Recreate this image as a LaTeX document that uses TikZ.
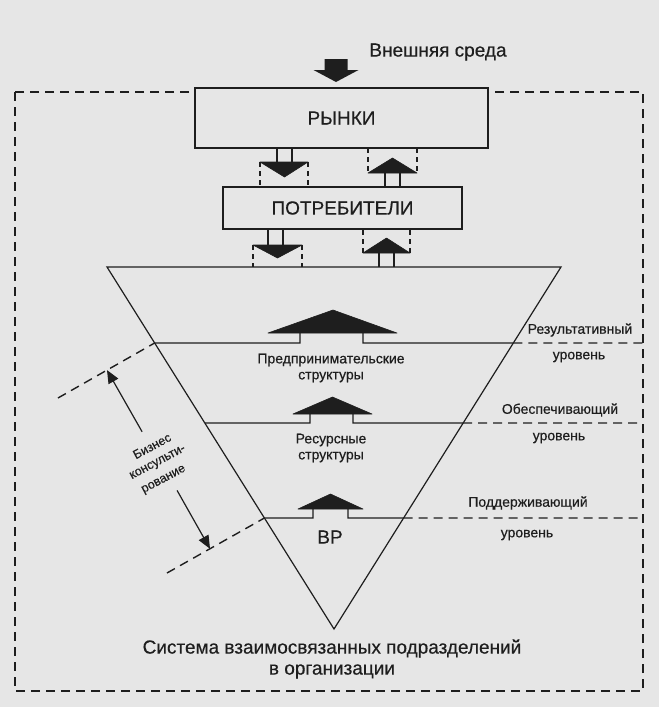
\documentclass[tikz,border=0pt]{standalone}
\usepackage{fontspec}
\setmainfont{Liberation Sans}[FakeBold=0.4]
\usetikzlibrary{arrows.meta,calc}
\definecolor{bg}{RGB}{230,230,230}
\definecolor{ink}{RGB}{30,30,30}
\begin{document}
\begin{tikzpicture}[x=1pt,y=-1pt,
  boxst/.style={draw=ink, line width=1.5pt, fill=bg, inner sep=0pt},
  big/.style={font=\fontsize{19}{21}\selectfont, text=ink, inner sep=0pt},
  lab/.style={font=\fontsize{14}{16}\selectfont, text=ink, inner sep=0pt},
  small/.style={font=\fontsize{12.5}{15.5}\selectfont, text=ink, inner sep=0pt, rotate=28},
  border/.style={draw=ink, line width=1.4pt, dash pattern=on 9pt off 6pt},
  frame/.style={draw=ink, line width=1.1pt, dash pattern=on 5pt off 4pt},
  head/.style={fill=ink, draw=ink, line width=0.6pt, line join=round},
  thin/.style={draw=ink, line width=1.2pt},
]
\fill[bg] (0,0) rectangle (659,707);
\useasboundingbox (0,0) rectangle (659,707);

% outer dashed frame
\draw[border] (15,92) rectangle (643,691);

% top text and block arrow
\node[big] (env) at (438,52) {Внешняя среда};
\fill[ink] (324.5,59) -- (347.5,59) -- (347.5,70) -- (358.5,70) -- (336,82) -- (313.5,70) -- (324.5,70) -- cycle;

% boxes
\node[boxst, big, minimum width=293pt, minimum height=60pt] (rynki) at (341.5,118) {РЫНКИ};
\node[boxst, big, minimum width=239pt, minimum height=42pt] (potr) at (342.5,208) {ПОТРЕБИТЕЛИ};

% arrows between РЫНКИ and ПОТРЕБИТЕЛИ
\draw[thin] (277,147) -- (277,162) (292,147) -- (292,162);
\fill[head] (260,162) -- (308,162) -- (284.5,177) -- cycle;
\draw[frame] (260,162) -- (260,187) (308,162) -- (308,187);
\draw[thin] (385,173) -- (385,187) (400,173) -- (400,187);
\fill[head] (368,173) -- (417,173) -- (392.5,158) -- cycle;
\draw[frame] (368,148) -- (368,173) (417,148) -- (417,173);

% arrows between ПОТРЕБИТЕЛИ and triangle
\draw[thin] (268,229) -- (268,245) (283,229) -- (283,245);
\fill[head] (253,245) -- (302,245) -- (277.5,258) -- cycle;
\draw[frame] (253,245) -- (253,267) (302,245) -- (302,267);
\draw[thin] (379,253) -- (379,267) (394,253) -- (394,267);
\fill[head] (363,253) -- (410,253) -- (386.5,238) -- cycle;
\draw[frame] (363,230) -- (363,253) (410,230) -- (410,253);

% triangle
\coordinate (tl) at (107,267);
\coordinate (tr) at (561,267);
\coordinate (ap) at (334,629);
\draw[thin, line join=miter] (tl) -- (tr) -- (ap) -- cycle;

\coordinate (l1L) at ($(tl)!0.2099!(ap)$);
\coordinate (l1R) at ($(tr)!0.2099!(ap)$);
\coordinate (l2L) at ($(tl)!0.4309!(ap)$);
\coordinate (l2R) at ($(tr)!0.4309!(ap)$);
\coordinate (l3L) at ($(tl)!0.6934!(ap)$);
\coordinate (l3R) at ($(tr)!0.6934!(ap)$);

% level 1
\draw[thin] (l1L) -- (300,343) -- (300,333);
\draw[thin] (363,333) -- (363,343) -- (l1R);
\fill[head] (268,333) -- (397,333) -- (333,310) -- cycle;
\draw[border] (l1R) -- (643,343);
% level 2
\draw[thin] (l2L) -- (310,423) -- (310,414);
\draw[thin] (353,414) -- (353,423) -- (l2R);
\fill[head] (293,414) -- (372,414) -- (332.5,397) -- cycle;
\draw[border] (l2R) -- (643,423);
% level 3
\draw[thin] (l3L) -- (313,518) -- (313,509);
\draw[thin] (348,509) -- (348,518) -- (l3R);
\fill[head] (298,509) -- (363,509) -- (330.5,494) -- cycle;
\draw[border] (l3R) -- (643,518);

% texts inside triangle
\node[lab, align=center] (pred) at (331,368) {Предпринимательские\\структуры};
\node[lab, align=center] (res) at (331,448) {Ресурсные\\структуры};
\node[big] (vr) at (330,537) {ВР};

% level labels
\node[lab] (r1) at (580,330) {Результативный};
\node[lab] (r2) at (579,357) {уровень};
\node[lab] (o1) at (560,410) {Обеспечивающий};
\node[lab] (o2) at (559,438) {уровень};
\node[lab] (p1) at (528,503) {Поддерживающий};
\node[lab] (p2) at (527,535) {уровень};

% bottom text
\node[big, align=center] (sys) at (332,659) {Система взаимосвязанных подразделений\\в организации};

% business consulting
\coordinate (d1) at (58,398);
\coordinate (d3) at (167,573);
\draw[border] (d1) -- (l1L);
\draw[border] (d3) -- (l3L);
\coordinate (tipU) at ($(d1)!0.507!(l1L)$);
\coordinate (tailU) at ($(tipU)!71pt!-90:(l1L)$);
\coordinate (tipL) at ($(d3)!0.4415!(l3L)$);
\coordinate (tailL) at ($(tipL)!67pt!90:(l3L)$);
\draw[thin, -{Triangle[length=13pt,width=11pt]}] (tailU) -- (tipU);
\draw[thin, -{Triangle[length=13pt,width=11pt]}] (tailL) -- (tipL);
\node[small] (biz1) at (152,446) {Бизнес};
\node[small] (biz2) at (158,463) {консульти-};
\node[small] (biz3) at (164,480) {рование};
\end{tikzpicture}
\end{document}
